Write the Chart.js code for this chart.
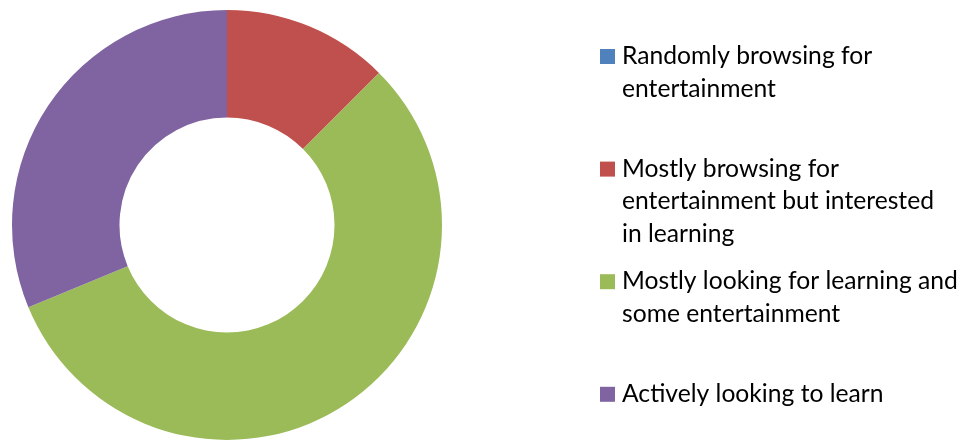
<!DOCTYPE html>
<html>
<head>
<meta charset="utf-8">
<script src="https://cdn.jsdelivr.net/npm/chart.js@4/dist/chart.umd.min.js"></script>
<style>
  html, body { margin: 0; padding: 0; background: #fff; }
  #wrap { width: 964px; height: 441px; }
</style>
</head>
<body>
<div id="wrap"><canvas id="myChart" width="964" height="441"></canvas></div>
<script>
// survey answers, one line array per legend entry
const categories = [
	['Randomly browsing for', 'entertainment'],
	['Mostly browsing for', 'entertainment but interested', 'in learning'],
	['Mostly looking for learning and', 'some entertainment'],
	['Actively looking to learn']
]
const responses = [0, 4, 18, 10]
const sliceColors = ['#4F81BD', '#C0504D', '#9BBB59', '#8064A2']

const FONT_FAMILY = 'Lato, "Open Sans", sans-serif'

// legend on the right, drawn by hand so multi-line labels keep their breaks
const sideLegend = {
	id: 'sideLegend',
	afterDraw(chart) {
		const ctx = chart.ctx
		const labels = chart.data.labels
		const colors = chart.data.datasets[0].backgroundColor

		// size the font so the widest line spans about 336px
		ctx.save()
		ctx.font = '100px ' + FONT_FAMILY
		const widest = Math.max(...labels.flat().map(t => ctx.measureText(t).width))
		const fontSize = Math.min(25, 100 * 336 / widest)
		ctx.font = fontSize + 'px ' + FONT_FAMILY

		const boxX = 600
		const textX = 622
		const firstBaseline = 64
		const itemStep = 112.6
		const lineStep = 32.5

		ctx.textBaseline = 'alphabetic'
		ctx.textAlign = 'left'
		labels.forEach((lines, i) => {
			const y = firstBaseline + i * itemStep
			ctx.fillStyle = colors[i]
			ctx.fillRect(boxX, y - 15, 15, 15)
			ctx.fillStyle = '#000'
			lines.forEach((line, j) => ctx.fillText(line, textX, y + j * lineStep))
		})
		ctx.restore()
	}
}

new Chart(document.getElementById('myChart'), {
	type: 'doughnut',
	data: {
		labels: categories,
		datasets: [{
			data: responses,
			backgroundColor: sliceColors,
			borderWidth: 0
		}]
	},
	options: {
		responsive: false,
		animation: false,
		cutout: '50%',
		layout: {
			padding: { left: 12, top: 10, right: 522, bottom: 1 }
		},
		plugins: {
			legend: { display: false },
			tooltip: { enabled: false }
		}
	},
	plugins: [sideLegend]
})
</script>
</body>
</html>
